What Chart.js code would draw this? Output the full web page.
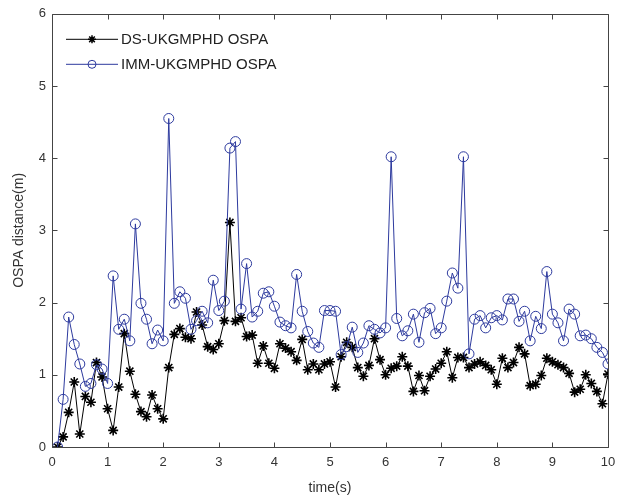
<!DOCTYPE html>
<html><head><meta charset="utf-8">
<script src="https://cdn.jsdelivr.net/npm/chart.js@4.4.1/dist/chart.umd.min.js"></script>
<style>html,body{margin:0;padding:0;background:#fff}#wrap{width:624px;height:499px}</style>
</head><body><div id="wrap"><canvas id="c" width="624" height="499"></canvas></div>
<script>
const timeValues = [0.1,0.2,0.3,0.4,0.5,0.6,0.7,0.8,0.9,1.0,
1.1,1.2,1.3,1.4,1.5,1.6,1.7,1.8,1.9,2.0,
2.1,2.2,2.3,2.4,2.5,2.6,2.7,2.8,2.9,3.0,
3.1,3.2,3.3,3.4,3.5,3.6,3.7,3.8,3.9,4.0,
4.1,4.2,4.3,4.4,4.5,4.6,4.7,4.8,4.9,5.0,
5.1,5.2,5.3,5.4,5.5,5.6,5.7,5.8,5.9,6.0,
6.1,6.2,6.3,6.4,6.5,6.6,6.7,6.8,6.9,7.0,
7.1,7.2,7.3,7.4,7.5,7.6,7.7,7.8,7.9,8.0,
8.1,8.2,8.3,8.4,8.5,8.6,8.7,8.8,8.9,9.0,
9.1,9.2,9.3,9.4,9.5,9.6,9.7,9.8,9.9,10.0];

const dsOspa = [0.00,0.14,0.48,0.90,0.18,0.70,0.62,1.17,0.97,0.53,
0.23,0.83,1.57,1.05,0.73,0.49,0.42,0.72,0.53,0.39,
1.10,1.56,1.64,1.52,1.50,1.87,1.69,1.39,1.35,1.43,
1.75,3.11,1.74,1.79,1.53,1.55,1.16,1.40,1.16,1.09,
1.43,1.37,1.32,1.20,1.49,1.07,1.15,1.07,1.15,1.18,
0.83,1.25,1.45,1.38,1.10,0.98,1.13,1.50,1.21,1.00,
1.09,1.12,1.25,1.12,0.77,0.99,0.78,0.98,1.08,1.16,
1.32,0.96,1.24,1.24,1.10,1.15,1.18,1.13,1.07,0.87,
1.23,1.10,1.17,1.38,1.29,0.85,0.87,0.99,1.23,1.18,
1.14,1.10,1.02,0.76,0.80,1.00,0.88,0.77,0.60,1.01];

const immOspa = [0.00,0.66,1.80,1.42,1.15,0.84,0.88,1.14,1.08,0.88,
2.37,1.63,1.77,1.47,3.09,1.99,1.77,1.43,1.62,1.47,
4.55,1.99,2.15,2.06,1.63,1.75,1.88,1.72,2.31,1.89,
2.02,4.14,4.23,1.91,2.54,1.80,1.88,2.13,2.15,1.95,
1.73,1.68,1.65,2.39,1.88,1.60,1.44,1.38,1.89,1.89,
1.88,1.28,1.39,1.66,1.31,1.44,1.68,1.63,1.58,1.65,
4.02,1.78,1.54,1.61,1.84,1.45,1.86,1.92,1.57,1.65,
2.02,2.41,2.20,4.02,1.29,1.77,1.82,1.65,1.79,1.82,
1.76,2.05,2.05,1.74,1.88,1.47,1.81,1.64,2.43,1.84,
1.72,1.47,1.91,1.84,1.54,1.55,1.50,1.38,1.31,1.15];

const seriesNames = ['DS-UKGMPHD OSPA', 'IMM-UKGMPHD OSPA'];
const xTickValues = [0,1,2,3,4,5,6,7,8,9,10];
const yTickValues = [0,1,2,3,4,5,6];

const FONT = "'Liberation Sans', Arial, sans-serif";
const BLUE = '#2d3a9e';

function toPoints(xs, ys){ return xs.map((x,i)=>({x:x, y:ys[i]})); }

const boxPlugin = {
  id: 'boxAxes',
  afterDatasetsDraw(chart){
    const {ctx, chartArea:a, scales:{x, y}} = chart;
    ctx.save();
    ctx.strokeStyle = '#444';
    ctx.lineWidth = 1;
    const L = Math.round(a.left)+0.5, R = Math.round(a.right)+0.5, T = Math.round(a.top)+0.5, B = Math.round(a.bottom)+0.5;
    ctx.beginPath();
    ctx.rect(L, T, R-L, B-T);
    const tl = 5;
    xTickValues.forEach(v=>{
      const px = Math.round(x.getPixelForValue(v))+0.5;
      ctx.moveTo(px, B); ctx.lineTo(px, B-tl);
      ctx.moveTo(px, T); ctx.lineTo(px, T+tl);
    });
    yTickValues.forEach(v=>{
      const py = Math.round(y.getPixelForValue(v))+0.5;
      ctx.moveTo(L, py); ctx.lineTo(L+tl, py);
      ctx.moveTo(R, py); ctx.lineTo(R-tl, py);
    });
    ctx.stroke();
    ctx.restore();
  },
  afterDraw(chart){
    const {ctx, chartArea:a} = chart;
    ctx.save();
    const x0 = a.left + 14, x1 = a.left + 66, xm = (x0+x1)/2;
    const rows = [a.top + 25, a.top + 50];
    const styles = [
      {color:'#000', marker:'star', fill:'#000', bw:1.5},
      {color:BLUE, marker:'circle', fill:'rgba(0,0,0,0)', bw:1}
    ];
    ctx.font = '15px ' + FONT;
    ctx.textBaseline = 'middle';
    ctx.textAlign = 'left';
    rows.forEach((yy, i)=>{
      const st = styles[i];
      ctx.strokeStyle = st.color;
      ctx.lineWidth = 1;
      ctx.beginPath();
      ctx.moveTo(x0, yy+0.5); ctx.lineTo(x1, yy+0.5);
      ctx.stroke();
      ctx.fillStyle = st.fill;
      ctx.strokeStyle = st.color;
      ctx.lineWidth = st.bw;
      Chart.helpers.drawPoint(ctx, {pointStyle: st.marker, radius: 4, borderWidth: st.bw}, xm, yy+0.5);
      ctx.fillStyle = '#222';
      ctx.fillText(seriesNames[i], x1 + 3, yy + 1);
    });
    ctx.restore();
  }
};

const chart = new Chart(document.getElementById('c'), {
  type: 'line',
  data: {
    datasets: [
      {
        label: seriesNames[0],
        data: toPoints(timeValues, dsOspa),
        borderColor: '#000',
        borderWidth: 1,
        pointStyle: 'star',
        pointRadius: 5,
        pointBorderColor: '#000',
        pointBorderWidth: 1.6,
        pointBackgroundColor: '#000',
        tension: 0,
        order: 2
      },
      {
        label: seriesNames[1],
        data: toPoints(timeValues, immOspa),
        borderColor: BLUE,
        borderWidth: 1,
        pointStyle: 'circle',
        pointRadius: 5,
        pointBorderColor: BLUE,
        pointBorderWidth: 1,
        pointBackgroundColor: 'rgba(0,0,0,0)',
        tension: 0,
        order: 1
      }
    ]
  },
  options: {
    responsive: false,
    devicePixelRatio: 1,
    animation: false,
    layout: { padding: { top: 11, right: 16, left: 0, bottom: 0 } },
    plugins: { legend: { display: false }, tooltip: { enabled: false } },
    scales: {
      x: {
        type: 'linear', min: 0, max: 10,
        afterFit: s => { s.height = 52; },
        afterBuildTicks: s => { s.ticks = xTickValues.map(v=>({value:v})); },
        ticks: { font: { size: 13, family: FONT }, color: '#333', padding: 8, maxRotation: 0 },
        grid: { display: false, drawTicks: false },
        border: { display: false },
        title: { display: true, text: 'time(s)', font: { size: 14, family: FONT }, color: '#333', padding: { top: 2, bottom: 2 } }
      },
      y: {
        type: 'linear', min: 0, max: 6,
        afterFit: s => { s.width = 52; },
        afterBuildTicks: s => { s.ticks = yTickValues.map(v=>({value:v})); },
        ticks: { font: { size: 13, family: FONT }, color: '#333', padding: 6 },
        grid: { display: false, drawTicks: false },
        border: { display: false },
        title: { display: true, text: 'OSPA distance(m)', font: { size: 14, family: FONT }, color: '#333', padding: { top: 11, bottom: 2 } }
      }
    }
  },
  plugins: [boxPlugin]
});
</script>
</body></html>
